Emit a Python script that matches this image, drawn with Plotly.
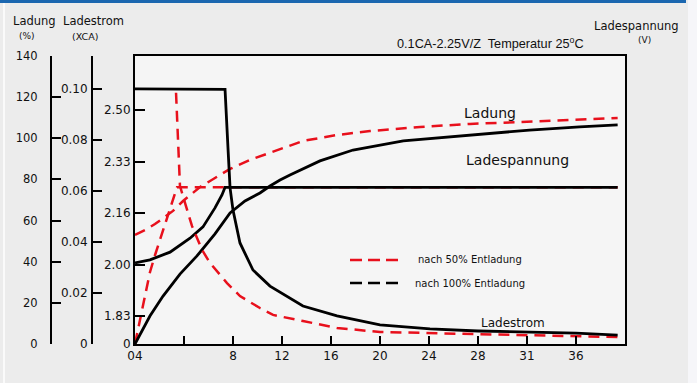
import plotly.graph_objects as go

# chart data (x = charging time, h)
x_ticks = [0, 4, 8, 12, 16, 20, 24, 28, 32, 36]
x_ticktext = ["04", "", "8", "12", "16", "20", "24", "28", "31", "36"]

# Ladestrom (CA) after 100% discharge
i100_x = [-0.4, 7.35, 7.59, 7.76, 8.0, 8.57, 9.63, 11.02, 13.71, 16.49, 20.0, 24.08, 28.0, 32.0, 36.0, 39.4]
i100_y = [0.100, 0.0998, 0.0769, 0.0612, 0.0525, 0.0396, 0.0290, 0.0227, 0.0149, 0.0110, 0.0075,
          0.0059, 0.0051, 0.0047, 0.0043, 0.0035]
# Ladestrom (CA) after 50% discharge
i50_x = [3.35, 3.51, 3.67, 3.84, 4.65, 5.47, 6.12, 7.51, 8.57, 10.2, 11.27, 13.71, 16.49, 20.0,
         24.08, 28.0, 32.0, 36.0, 39.4]
i50_y = [0.0985, 0.0808, 0.0620, 0.0592, 0.0463, 0.0369, 0.0318, 0.0239, 0.0188, 0.0141,
         0.0114, 0.0090, 0.0063, 0.0047, 0.0043, 0.0039, 0.0035, 0.0031, 0.0027]

# Ladespannung (V)
u100_x = [0, 1.22, 2.86, 4.49, 5.55, 6.53, 7.10, 7.35, 39.4]
u100_y = [12.03, 12.09, 12.24, 12.51, 12.73, 13.10, 13.35, 13.5, 13.5]
u50_x = [0, 0.41, 0.82, 1.22, 1.63, 2.04, 2.45, 2.86, 3.18, 3.43, 39.4]
u50_y = [10.46, 10.92, 11.41, 11.85, 12.18, 12.48, 12.77, 13.06, 13.33, 13.5, 13.5]

# Ladung (%)
q100_x = [0, 1.22, 2.29, 3.67, 5.06, 6.53, 7.76, 8.98, 10.2, 11.02, 11.84, 12.65, 15.1, 17.8,
          21.9, 27.35, 32.2, 36.3, 39.4]
q100_y = [0, 13.6, 23.3, 34.0, 42.8, 53.5, 63.7, 69.5, 73.4, 76.8, 79.7, 82.2, 89.0, 94.3,
          98.7, 101.6, 104.0, 105.5, 106.5]
q50_x = [0, 0.82, 1.63, 2.45, 3.10, 3.92, 4.65, 5.31, 6.53, 7.76, 9.39, 11.84, 13.71, 16.49,
         19.18, 23.27, 27.35, 31.43, 35.51, 39.4]
q50_y = [53.0, 55.4, 58.3, 61.7, 64.7, 69.5, 72.9, 76.3, 80.7, 85.1, 89.5, 94.8, 98.7, 101.6,
         103.5, 105.5, 107.0, 107.9, 108.9, 109.9]

# axis tick labels
cell_vals = [10.456, 11, 12, 13, 14, 15]
cell_text = ["0", "1.83", "2.00", "2.16", "2.33", "2.50"]
pack_vals = [11, 12, 13, 14, 15]
ladung_vals = [0, 20, 40, 60, 80, 100, 120, 140]
strom_vals = [0, 0.02, 0.04, 0.06, 0.08, 0.10]
strom_text = ["0", "0.02", "0.04", "0.06", "0.08", "0.10"]

W, H = 697, 383
FONT = "DejaVu Sans"
RED = "#e8101c"
DASH = "11px,7px"


def px(x):
    return x / W


def py(y):
    return 1 - y / H


fig = go.Figure()

fig.add_trace(go.Scatter(x=i50_x, y=i50_y, yaxis="y4", mode="lines",
                         line=dict(color=RED, width=2.5, dash=DASH)))
fig.add_trace(go.Scatter(x=u50_x, y=u50_y, yaxis="y", mode="lines",
                         line=dict(color=RED, width=2.5, dash=DASH)))
fig.add_trace(go.Scatter(x=q50_x, y=q50_y, yaxis="y3", mode="lines",
                         line=dict(color=RED, width=2.5, dash=DASH)))
fig.add_trace(go.Scatter(x=i100_x, y=i100_y, yaxis="y4", mode="lines", cliponaxis=False,
                         line=dict(color="black", width=2.8)))
fig.add_trace(go.Scatter(x=u100_x, y=u100_y, yaxis="y", mode="lines",
                         line=dict(color="black", width=2.8)))
fig.add_trace(go.Scatter(x=q100_x, y=q100_y, yaxis="y3", mode="lines",
                         line=dict(color="black", width=2.8)))

tickfont = dict(family=FONT, size=12, color="#111")
vrange = [10.456, 16.05]

fig.update_layout(
    width=W, height=H,
    margin=dict(l=0, r=0, t=0, b=0, autoexpand=False),
    paper_bgcolor="#ececec",
    plot_bgcolor="#f5f5f5",
    showlegend=False,
    xaxis=dict(domain=[px(135), px(625)], range=[0, 40], tickvals=x_ticks, ticktext=x_ticktext,
               ticks="inside", ticklen=8, tickwidth=2, tickcolor="black", automargin=False,
               showline=True, linecolor="black", linewidth=2, mirror=True,
               showgrid=False, zeroline=False, tickfont=tickfont, ticklabelstandoff=0),
    yaxis=dict(domain=[py(344), py(56)], range=vrange, tickvals=cell_vals, ticktext=cell_text,
               ticks="inside", ticklen=10, tickwidth=2, tickcolor="black", automargin=False,
               showline=True, linecolor="black", linewidth=2, mirror=True,
               showgrid=False, zeroline=False, tickfont=tickfont, ticklabelstandoff=0),
    yaxis2=dict(overlaying="y", side="right", anchor="x", range=vrange, tickvals=pack_vals,
                tickformat=".1f", ticks="inside", ticklen=9, tickwidth=2, tickcolor="black",
                showline=True, linecolor="black", linewidth=2, automargin=False,
                showgrid=False, zeroline=False, tickfont=tickfont, ticklabelstandoff=4),
    yaxis3=dict(overlaying="y", side="left", anchor="free", position=px(51), range=[0, 140],
                tickvals=ladung_vals, ticks="inside", ticklen=9, tickwidth=2, tickcolor="black",
                showline=True, linecolor="black", linewidth=2, automargin=False,
                showgrid=False, zeroline=False, tickfont=dict(family=FONT, size=11.5, color="#111"),
                ticklabelstandoff=10),
    yaxis4=dict(overlaying="y", side="left", anchor="free", position=px(92), range=[0, 0.1129],
                tickvals=strom_vals, ticktext=strom_text, ticks="inside", ticklen=9, tickwidth=2,
                tickcolor="black", showline=True, linecolor="black", linewidth=2, automargin=False,
                showgrid=False, zeroline=False, tickfont=tickfont, ticklabelstandoff=1),
)


def label(text, x, y, size, family=FONT, xanchor="center", color="#111"):
    fig.add_annotation(text=text, x=px(x), y=py(y), xref="paper", yref="paper",
                       xanchor=xanchor, yanchor="middle", showarrow=False,
                       font=dict(family=family, size=size, color=color))


# axis titles
label("Ladung", 34, 21, 11.5)
label("(%)", 27, 36, 9)
label("Ladestrom", 93, 21, 11.5)
label("(XCA)", 85, 36, 9.5)
label("Ladespannung", 636, 26, 11.5)
label("(V)", 644, 40, 9)
label("0.1CA-2.25V/Z  Temperatur 25<sup>o</sup>C", 490, 43, 12.7, family="Liberation Sans")

# curve labels
label("Ladung", 490, 113, 14)
label("Ladespannung", 517, 160, 14)
label("Ladestrom", 513, 323, 12)

# legend
label("nach 50% Entladung", 416, 259, 10, xanchor="left")
label("nach 100% Entladung", 413, 283, 10, xanchor="left")
fig.add_shape(type="line", xref="paper", yref="paper", x0=px(350), x1=px(398), y0=py(260), y1=py(260),
              line=dict(color=RED, width=2.5, dash="12px,6px"))
fig.add_shape(type="line", xref="paper", yref="paper", x0=px(350), x1=px(398), y0=py(283), y1=py(283),
              line=dict(color="black", width=2.5, dash="12px,6px"))

# page decoration: blue top bar, light right edge, white left rule
fig.add_shape(type="rect", xref="paper", yref="paper", x0=0, x1=px(686), y0=py(3), y1=1,
              fillcolor="#1b67b0", line=dict(width=0), layer="above")
fig.add_shape(type="rect", xref="paper", yref="paper", x0=px(688), x1=1, y0=0, y1=1,
              fillcolor="#f6f6f9", line=dict(width=0), layer="below")
fig.add_shape(type="line", xref="paper", yref="paper", x0=px(4), x1=px(4), y0=0, y1=py(3),
              line=dict(color="white", width=1.5), layer="below")

# the page's default body margin would shift the figure off the window origin
fig.write_html("out.html", config={"displayModeBar": False},
               post_script="document.body.style.margin = '0';")
